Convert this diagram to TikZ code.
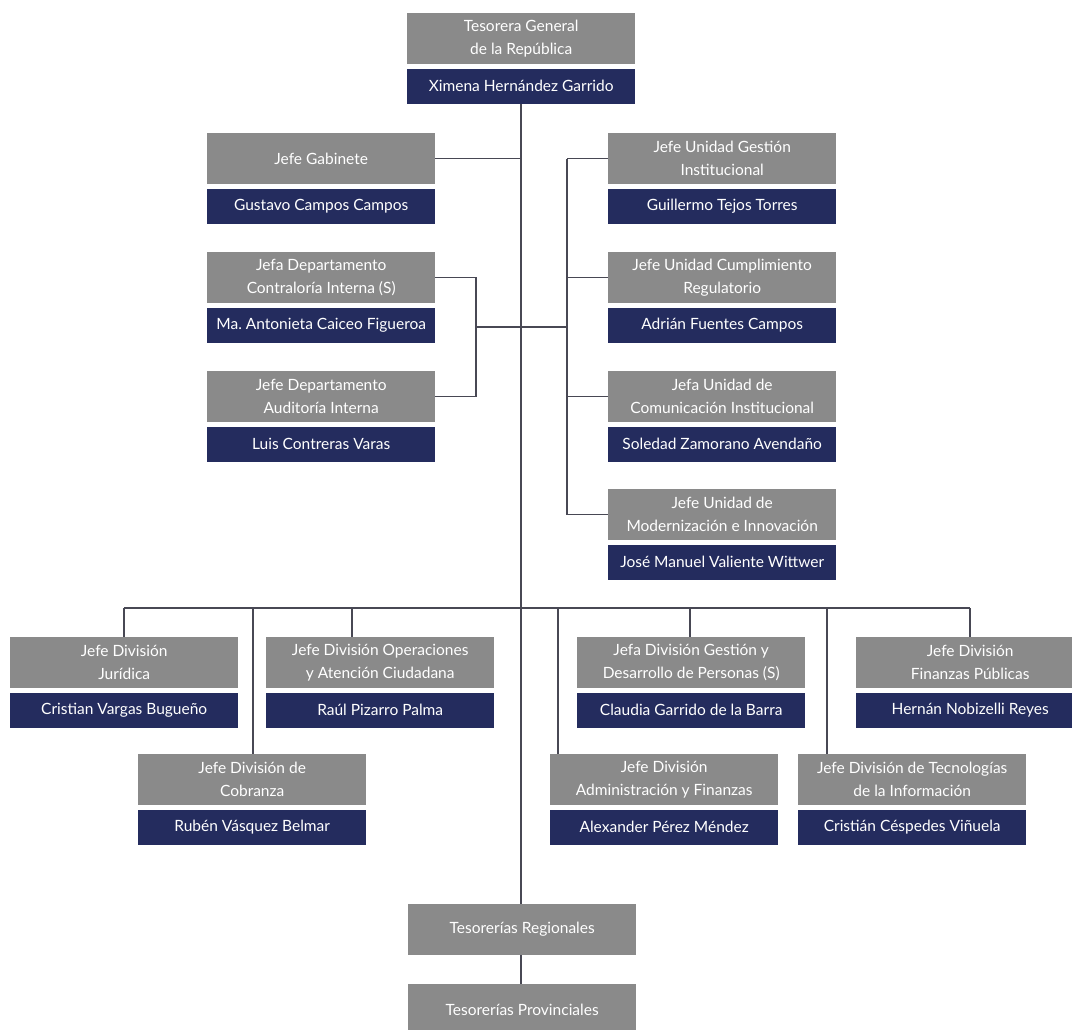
\documentclass[tikz,border=0pt]{standalone}
\usepackage{fontspec}
\setmainfont{Lato}
\frenchspacing
\definecolor{boxgray}{RGB}{138,138,138}
\definecolor{boxnavy}{RGB}{36,44,94}
\definecolor{linecol}{RGB}{72,72,84}
\tikzset{
  titlebox/.style={fill=boxgray, text=white, align=center, inner sep=0pt,
    minimum width=228pt, minimum height=51pt, anchor=north west,
    font=\fontsize{15.5}{23}\selectfont},
  namebox/.style={fill=boxnavy, text=white, align=center, inner sep=0pt,
    minimum width=228pt, minimum height=35pt, anchor=north west,
    font=\fontsize{15.5}{23}\selectfont},
  conn/.style={draw=linecol, line width=1.3pt}
}
\newcommand\orgunit[5]{%
  \node[titlebox] (#1-t) at (#2,#3) {#4};
  \node[namebox] (#1) at ([yshift=-4pt]#1-t.south west) {#5};
}
\begin{document}
\begin{tikzpicture}[x=1pt,y=-1pt]
\useasboundingbox (0,0) rectangle (1072,1030);
\clip (0,0) rectangle (1072,1030);
% boxes
\orgunit{tgr}{407}{13}{Tesorera General\\de la República}{Ximena Hernández Garrido}
\orgunit{gab}{207}{133}{Jefe Gabinete}{Gustavo Campos Campos}
\orgunit{cont}{207}{252}{Jefa Departamento\\Contraloría Interna (S)}{Ma.\ Antonieta Caiceo Figueroa}
\orgunit{aud}{207}{371}{Jefe Departamento\\Auditoría Interna}{Luis Contreras Varas}
\orgunit{ugi}{608}{133}{Jefe Unidad Gestión\\Institucional}{Guillermo Tejos Torres}
\orgunit{ucr}{608}{252}{Jefe Unidad Cumplimiento\\Regulatorio}{Adrián Fuentes Campos}
\orgunit{uci}{608}{371}{Jefa Unidad de\\Comunicación Institucional}{Soledad Zamorano Avendaño}
\orgunit{umi}{608}{489}{Jefe Unidad de\\Modernización e Innovación}{José Manuel Valiente Wittwer}
\orgunit{jur}{10}{637}{Jefe División\\Jurídica}{Cristian Vargas Bugueño}
\orgunit{ope}{266}{637}{Jefe División Operaciones\\y Atención Ciudadana}{Raúl Pizarro Palma}
\orgunit{per}{577}{637}{Jefa División Gestión y\\Desarrollo de Personas (S)}{Claudia Garrido de la Barra}
\orgunit{fin}{856}{637}{Jefe División\\Finanzas Públicas}{Hernán Nobizelli Reyes}
\orgunit{cob}{138}{754}{Jefe División de\\Cobranza}{Rubén Vásquez Belmar}
\orgunit{adm}{550}{754}{Jefe División\\Administración y Finanzas}{Alexander Pérez Méndez}
\orgunit{tec}{798}{754}{Jefe División de Tecnologías\\de la Información}{Cristián Céspedes Viñuela}
\node[titlebox] (reg) at (408,904) {Tesorerías Regionales};
\node[titlebox, minimum height=52pt] (prov) at (408,984) {Tesorerías Provinciales};
% connector coordinates
\coordinate (trunkTop) at (521,103);
\coordinate (rcol) at (567,0);
\coordinate (lbr) at (476,0);
\coordinate (midY) at (0,327);
\coordinate (dJur) at (124,608);
\coordinate (dCob) at (253,608);
\coordinate (dOpe) at (352,608);
\coordinate (dAdm) at (558,608);
\coordinate (dPer) at (690,608);
\coordinate (dTec) at (827,608);
\coordinate (dFin) at (970,608);
% trunk
\draw[conn] (tgr.south -| trunkTop) -- (reg.north -| trunkTop);
\draw[conn] (reg.south -| trunkTop) -- (prov.north -| trunkTop);
% Gabinete
\draw[conn] (gab-t.east) -- (gab-t.east -| trunkTop);
% right column
\draw[conn] (ugi-t.west -| rcol) -- (umi-t.west -| rcol);
\draw[conn] (ugi-t.west -| rcol) -- (ugi-t.west);
\draw[conn] (ucr-t.west -| rcol) -- (ucr-t.west);
\draw[conn] (uci-t.west -| rcol) -- (uci-t.west);
\draw[conn] (umi-t.west -| rcol) -- (umi-t.west);
% left bracket
\draw[conn] (cont-t.east) -- (cont-t.east -| lbr) -- (aud-t.east -| lbr) -- (aud-t.east);
\draw[conn] (midY -| lbr) -- (midY -| rcol);
% bottom bus
\draw[conn] (dJur) -- (dFin);
\draw[conn] (dJur) -- (dJur |- jur-t.north);
\draw[conn] (dCob) -- (dCob |- cob-t.north);
\draw[conn] (dOpe) -- (dOpe |- ope-t.north);
\draw[conn] (dAdm) -- (dAdm |- adm-t.north);
\draw[conn] (dPer) -- (dPer |- per-t.north);
\draw[conn] (dTec) -- (dTec |- tec-t.north);
\draw[conn] (dFin) -- (dFin |- fin-t.north);
\end{tikzpicture}
\end{document}
